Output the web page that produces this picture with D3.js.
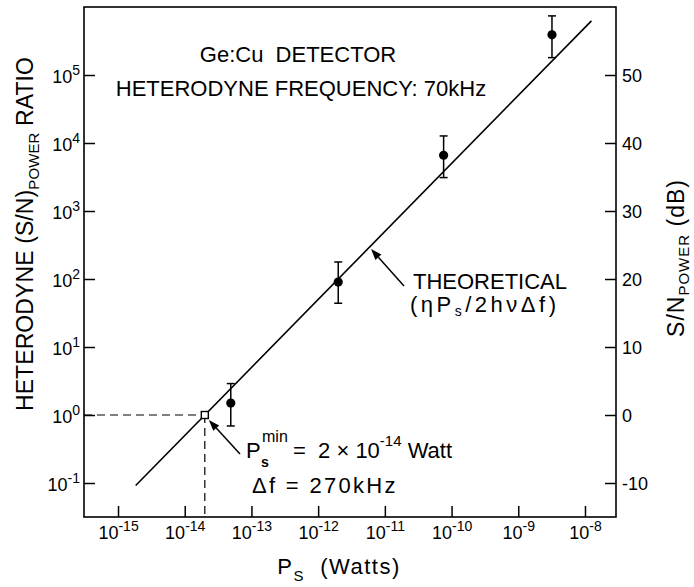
<!DOCTYPE html>
<html>
<head>
<meta charset="utf-8">
<script src="https://cdn.jsdelivr.net/npm/d3@7"></script>
<style>
  html, body { margin: 0; padding: 0; background: #fff; }
  svg { display: block; font-family: "Liberation Sans", Arial, Helvetica, sans-serif; }
</style>
</head>
<body>
<svg id="chart" width="694" height="587"></svg>
<script>
// ---- data ----
const psWatts  = [4.9e-14, 2.0e-12, 7.6e-11, 3.2e-9];   // measured points (x)
const snRatio  = [1.5, 90, 6.6e3, 3.9e5];               // measured S/N (y)
const snUpper  = [2.9, 178, 1.27e4, 7.4e5];             // error bar tops
const snLower  = [0.69, 44, 3.1e3, 1.8e5];              // error bar bottoms
const theoryPs = [1.84e-15, 1.25e-8];                   // theoretical line ends (x)
const theorySn = [0.092, 6.25e5];                       // theoretical line ends (y)
const minPs    = [2e-14];                               // P_s min
const minSn    = [1];
const arrowTheoryPs = [5.9e-12];                        // where the THEORETICAL arrow points
const xTickExps = [-15, -14, -13, -12, -11, -10, -9, -8];
const yTickExps = [-1, 0, 1, 2, 3, 4, 5];
const dbTicks   = [-10, 0, 10, 20, 30, 40, 50];

const svg = d3.select("#chart");
const L = 84, R = 616, T = 7, B = 517;

const x = d3.scaleLog().domain([Math.pow(10, -15.51), Math.pow(10, -7.535)]).range([L, R]);
const y = d3.scaleLog().domain([Math.pow(10, -1.5), Math.pow(10, 6)]).range([B, T]);
const yDb = d3.scaleLinear().domain([-15, 60]).range([B, T]);

// ---- axes ----
function sup(sel, exps, size, baseSize, raise) {
  sel.selectAll(".tick text").each(function(d, i) {
    const t = d3.select(this);
    t.text(null).attr("font-size", baseSize).attr("fill", "#000");
    t.append("tspan").text("10");
    t.append("tspan").attr("dy", -raise).attr("font-size", size).text(exps[i]);
  });
}

const gx = svg.append("g").attr("transform", `translate(0,${B})`)
  .call(d3.axisBottom(x).tickValues(xTickExps.map(e => Math.pow(10, e)))
        .tickSize(-11).tickSizeOuter(0).tickPadding(9).tickFormat(() => ""));
sup(gx, xTickExps.map(e => "-" + Math.abs(e)), 14, 18, 8);

const gy = svg.append("g").attr("transform", `translate(${L},0)`)
  .call(d3.axisLeft(y).tickValues(yTickExps.map(e => Math.pow(10, e)))
        .tickSize(-11).tickSizeOuter(0).tickPadding(4).tickFormat(() => ""));
sup(gy, yTickExps.map(e => e < 0 ? "-" + Math.abs(e) : String(e)), 14, 18, 8);
gy.selectAll(".tick text").attr("dy", "0.4em");

const gr = svg.append("g").attr("transform", `translate(${R},0)`)
  .call(d3.axisRight(yDb).tickValues(dbTicks).tickSize(-11).tickSizeOuter(0).tickPadding(6)
        .tickFormat(d => d < 0 ? "-" + Math.abs(d) : String(d)));
gr.selectAll(".tick text").attr("font-size", 18).attr("fill", "#000").attr("dy", "0.38em");

[gx, gy, gr].forEach(g => {
  g.select(".domain").remove();
  g.selectAll(".tick line").attr("stroke", "#000").attr("stroke-width", 1.5);
  g.attr("font-family", null);
});

// frame
svg.append("rect").attr("x", L).attr("y", T).attr("width", R - L).attr("height", B - T)
  .attr("fill", "none").attr("stroke", "#000").attr("stroke-width", 1.6);

// ---- dashed guides to P_s min ----
svg.append("line").attr("x1", L).attr("x2", x(minPs[0])).attr("y1", y(minSn[0])).attr("y2", y(minSn[0]))
  .attr("stroke", "#000").attr("stroke-width", 1.2).attr("stroke-dasharray", "8,5");
svg.append("line").attr("x1", x(minPs[0])).attr("x2", x(minPs[0])).attr("y1", y(minSn[0])).attr("y2", B)
  .attr("stroke", "#000").attr("stroke-width", 1.2).attr("stroke-dasharray", "8,5");

// ---- theoretical line ----
svg.append("path")
  .datum(theoryPs.map((p, i) => [p, theorySn[i]]))
  .attr("d", d3.line().x(d => x(d[0])).y(d => y(d[1])))
  .attr("fill", "none").attr("stroke", "#000").attr("stroke-width", 1.6);

// ---- error bars + points ----
const pts = psWatts.map((p, i) => ({p, v: snRatio[i], hi: snUpper[i], lo: snLower[i]}));
const eb = svg.append("g").attr("stroke", "#000").attr("stroke-width", 1.5);
eb.selectAll("line.v").data(pts).join("line")
  .attr("x1", d => x(d.p)).attr("x2", d => x(d.p)).attr("y1", d => y(d.hi)).attr("y2", d => y(d.lo));
eb.selectAll("line.t").data(pts).join("line")
  .attr("x1", d => x(d.p) - 4).attr("x2", d => x(d.p) + 4).attr("y1", d => y(d.hi)).attr("y2", d => y(d.hi));
eb.selectAll("line.b").data(pts).join("line")
  .attr("x1", d => x(d.p) - 4).attr("x2", d => x(d.p) + 4).attr("y1", d => y(d.lo)).attr("y2", d => y(d.lo));
svg.selectAll("circle.pt").data(pts).join("circle")
  .attr("cx", d => x(d.p)).attr("cy", d => y(d.v)).attr("r", 4.6).attr("fill", "#000");

// open square at P_s min
svg.append("rect").attr("x", x(minPs[0]) - 3.5).attr("y", y(minSn[0]) - 3.5)
  .attr("width", 7).attr("height", 7).attr("fill", "#fff").attr("stroke", "#000").attr("stroke-width", 1.4);

// ---- arrows ----
function arrow(x1, y1, x2, y2) {
  const a = Math.atan2(y2 - y1, x2 - x1), len = 11, w = 4;
  const bx = x2 - len * Math.cos(a), by = y2 - len * Math.sin(a);
  svg.append("line").attr("x1", x1).attr("y1", y1).attr("x2", bx).attr("y2", by)
    .attr("stroke", "#000").attr("stroke-width", 1.5);
  svg.append("path").attr("d",
    `M${x2},${y2}L${bx + w * Math.sin(a)},${by - w * Math.cos(a)}L${bx - w * Math.sin(a)},${by + w * Math.cos(a)}Z`)
    .attr("fill", "#000");
}
const thTipX = x(arrowTheoryPs[0]) + 1.5, thTipY = y(arrowTheoryPs[0] / minPs[0]) + 2;
arrow(404, 286, thTipX, thTipY);
arrow(240, 454, x(minPs[0]) + 4, y(minSn[0]) + 5);

// ---- texts ----
const big = 22;
svg.append("text").attr("x", 298).attr("y", 62).attr("text-anchor", "middle")
  .attr("font-size", big).attr("xml:space", "preserve").style("white-space", "pre").text("Ge:Cu  DETECTOR");
svg.append("text").attr("x", 301).attr("y", 96).attr("text-anchor", "middle")
  .attr("font-size", big).text("HETERODYNE FREQUENCY: 70kHz");

svg.append("text").attr("x", 413).attr("y", 289).attr("font-size", big).attr("letter-spacing", 0).text("THEORETICAL");
const eq = svg.append("text").attr("x", 410).attr("y", 312).attr("font-size", big).attr("letter-spacing", 3.5);
eq.append("tspan").text("(ηP");
eq.append("tspan").attr("font-size", 14).attr("dy", 4).text("s");
eq.append("tspan").attr("dy", -4).text("/2hνΔf)");

// P_s^min annotation
svg.append("text").attr("x", 246).attr("y", 458).attr("font-size", big).text("P");
svg.append("text").attr("x", 262).attr("y", 442).attr("font-size", 16).text("min");
svg.append("text").attr("x", 261).attr("y", 467).attr("font-size", 14).attr("font-weight", "bold").text("s");
const pm = svg.append("text").attr("x", 293).attr("y", 458).attr("font-size", big)
  .attr("xml:space", "preserve").style("white-space", "pre");
pm.append("tspan").text("=  2 × 10");
pm.append("tspan").attr("font-size", 15).attr("dy", -12).text("-14");
pm.append("tspan").attr("dy", 12).text(" Watt");

svg.append("text").attr("x", 252).attr("y", 493).attr("font-size", big).attr("letter-spacing", 2.3)
  .attr("xml:space", "preserve").style("white-space", "pre").text("Δf = 270kHz");

// x-axis label
const xl = svg.append("text").attr("x", 339).attr("y", 574).attr("text-anchor", "middle")
  .attr("font-size", big).attr("letter-spacing", 1.5).attr("xml:space", "preserve").style("white-space", "pre");
xl.append("tspan").text("P");
xl.append("tspan").attr("font-size", 15).attr("dy", 7).text("S");
xl.append("tspan").attr("dy", -7).text("  (Watts)");

// left y label
const yl = svg.append("text").attr("transform", "translate(33,234) rotate(-90)")
  .attr("text-anchor", "middle").attr("font-size", 23).attr("letter-spacing", 0.1)
  .attr("xml:space", "preserve").style("white-space", "pre");
yl.append("tspan").text("HETERODYNE (S/N)");
yl.append("tspan").attr("font-size", 15).attr("dy", 6).text("POWER");
yl.append("tspan").attr("dy", -6).text(" RATIO");

// right y label
const yr = svg.append("text").attr("transform", "translate(684,258) rotate(-90)")
  .attr("text-anchor", "middle").attr("font-size", 23).attr("letter-spacing", 1)
  .attr("xml:space", "preserve").style("white-space", "pre");
yr.append("tspan").text("S/N");
yr.append("tspan").attr("font-size", 15).attr("dy", 5).text("POWER");
yr.append("tspan").attr("dy", -5).text(" (dB)");
</script>
</body>
</html>
